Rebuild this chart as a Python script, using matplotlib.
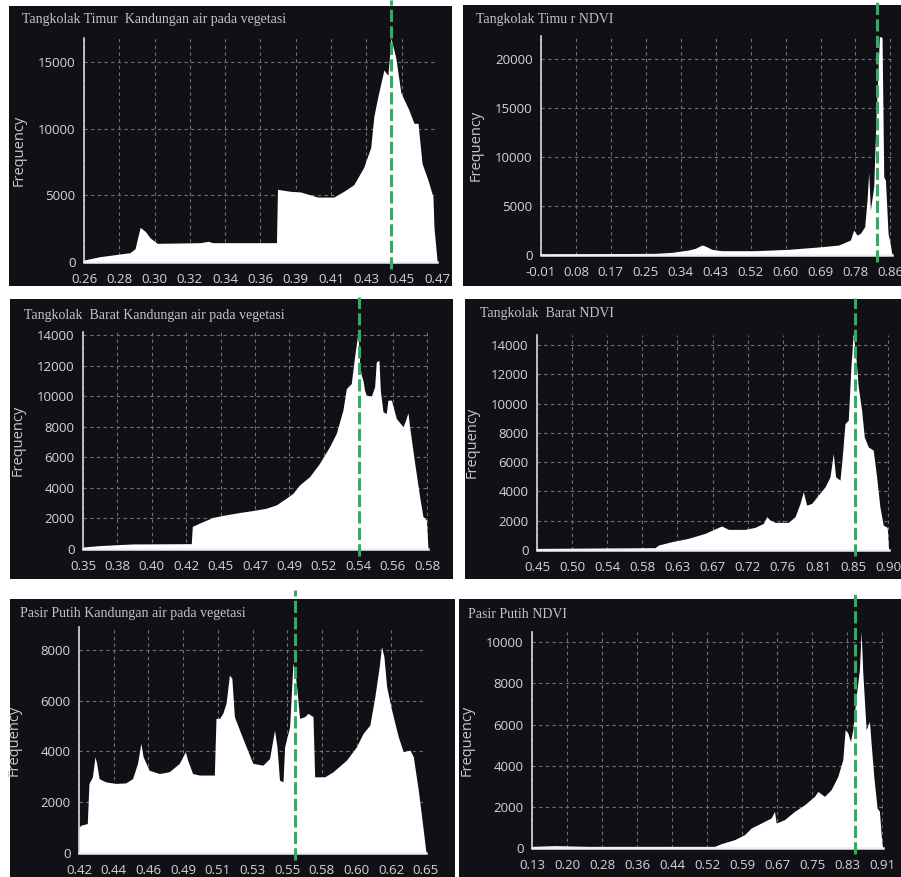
import numpy as np
import matplotlib
matplotlib.use('Agg')
import matplotlib.pyplot as plt

W, H = 901, 877

# ---- data (profile vertices: value, frequency) ----
p1_x = [0.2600, 0.2695, 0.2785, 0.2874, 0.2904, 0.2934, 0.2964, 0.2994, 0.3036, 0.3292, 0.3340,
        0.3364, 0.3745, 0.3751, 0.3829, 0.3889, 0.3990, 0.4086, 0.4145, 0.4205, 0.4264, 0.4306,
        0.4324, 0.4348, 0.4384, 0.4408, 0.4426, 0.4455, 0.4485, 0.4533, 0.4563, 0.4587, 0.4611,
        0.4646, 0.4676, 0.4682, 0.4700]
p1_freq = [150, 400, 550, 700, 1000, 2600, 2300, 1800, 1400, 1450, 1550,
           1450, 1450, 5450, 5300, 5250, 4870, 4870, 5300, 5800, 7100, 8600,
           10900, 12400, 14400, 14000, 16800, 15300, 12700, 11400, 10400, 10400, 7400,
           6150, 4900, 2600, 150]

p2_x = [-0.0100, 0.2742, 0.3157, 0.3573, 0.3739, 0.3905, 0.3988, 0.4154, 0.4404, 0.5235, 0.6066,
        0.6897, 0.7312, 0.7603, 0.7686, 0.7769, 0.7852, 0.7960, 0.8018, 0.8060, 0.8101, 0.8185,
        0.8243, 0.8326, 0.8392, 0.8434, 0.8476, 0.8542, 0.8600, 0.8641]
p2_freq = [100, 170, 270, 510, 680, 1020, 920, 580, 440, 440, 580,
           850, 1020, 1530, 2550, 2040, 2210, 2890, 5610, 8400, 4590, 6970,
           14110, 22340, 22270, 7990, 7650, 2210, 1020, 0]

p3_x = [0.3500, 0.3611, 0.3723, 0.3834, 0.4224, 0.4231, 0.4280, 0.4369, 0.4458, 0.4548, 0.4637,
        0.4726, 0.4793, 0.4860, 0.4904, 0.4949, 0.5016, 0.5082, 0.5149, 0.5194, 0.5238, 0.5261,
        0.5294, 0.5316, 0.5339, 0.5350, 0.5361, 0.5372, 0.5383, 0.5394, 0.5428, 0.5450, 0.5461,
        0.5479, 0.5488, 0.5506, 0.5528, 0.5539, 0.5562, 0.5595, 0.5640, 0.5657, 0.5673, 0.5684,
        0.5718, 0.5751, 0.5773, 0.5796, 0.5807]
p3_freq = [130, 220, 280, 330, 350, 1480, 1700, 2070, 2240, 2390, 2520,
           2670, 2890, 3330, 3650, 4200, 4740, 5610, 6700, 7570, 9090, 10500,
           10830, 12570, 14200, 12130, 11370, 11040, 10390, 10070, 10000, 10600, 12240,
           12350, 10390, 8980, 8870, 9740, 9740, 8540, 8000, 8430, 8910, 8000,
           5610, 3430, 2130, 1910, 0]

p4_x = [0.4500, 0.6014, 0.6057, 0.6228, 0.6441, 0.6654, 0.6825, 0.6867, 0.6953, 0.7166, 0.7294,
        0.7400, 0.7443, 0.7486, 0.7550, 0.7720, 0.7806, 0.7870, 0.7912, 0.7955, 0.8019, 0.8104,
        0.8190, 0.8254, 0.8296, 0.8326, 0.8382, 0.8411, 0.8446, 0.8488, 0.8522, 0.8552, 0.8586,
        0.8616, 0.8659, 0.8693, 0.8744, 0.8808, 0.8851, 0.8893, 0.8936, 0.8987, 0.9005]
p4_freq = [110, 160, 340, 570, 800, 1140, 1550, 1640, 1410, 1410, 1550,
           1820, 2275, 2050, 1890, 1890, 2275, 3185, 3980, 3070, 3185, 3750,
           4320, 5000, 6600, 5000, 4780, 6370, 8650, 8870, 12510, 14790, 13200,
           11150, 9555, 7735, 7050, 6825, 5000, 2960, 1700, 1550, 0]

p5_x = [0.4200, 0.4211, 0.4255, 0.4266, 0.4289, 0.4306, 0.4317, 0.4333, 0.4377, 0.4444, 0.4510,
        0.4555, 0.4588, 0.4610, 0.4625, 0.4665, 0.4732, 0.4798, 0.4865, 0.4905, 0.4920, 0.4953,
        0.4998, 0.5097, 0.5108, 0.5131, 0.5153, 0.5175, 0.5197, 0.5213, 0.5230, 0.5264, 0.5308,
        0.5352, 0.5419, 0.5463, 0.5496, 0.5512, 0.5529, 0.5552, 0.5563, 0.5596, 0.5618, 0.5629,
        0.5645, 0.5662, 0.5696, 0.5718, 0.5751, 0.5762, 0.5829, 0.5884, 0.5973, 0.6039, 0.6083,
        0.6128, 0.6161, 0.6190, 0.6205, 0.6221, 0.6239, 0.6272, 0.6316, 0.6349, 0.6394, 0.6416,
        0.6449, 0.6482, 0.6500]
p5_freq = [1000, 1090, 1160, 2740, 3000, 3790, 3530, 2930, 2800, 2740, 2760,
           2930, 3530, 4320, 3790, 3260, 3130, 3200, 3530, 3990, 3660, 3130,
           3070, 3070, 5300, 5300, 5500, 5900, 7010, 6880, 5370, 4840, 4180,
           3530, 3460, 3720, 4840, 4180, 2870, 2800, 4180, 4970, 7470, 7210,
           6420, 5300, 5370, 5500, 5370, 3000, 3000, 3200, 3660, 4180, 4710,
           5040, 6160, 7340, 8130, 7740, 6550, 5630, 4580, 3990, 4050, 3790,
           2470, 895, 0]

p6_x = [0.1300, 0.1805, 0.2547, 0.5367, 0.5515, 0.5812, 0.6035, 0.6183, 0.6406, 0.6629, 0.6703,
        0.6740, 0.6926, 0.7148, 0.7371, 0.7593, 0.7668, 0.7816, 0.7964, 0.8113, 0.8224, 0.8276,
        0.8336, 0.8395, 0.8447, 0.8521, 0.8595, 0.8632, 0.8670, 0.8744, 0.8818, 0.8855, 0.8914,
        0.8989, 0.9041, 0.9078, 0.9110]
p6_freq = [80, 115, 80, 80, 210, 405, 650, 970, 1215, 1460, 1780,
           1215, 1380, 1780, 2100, 2510, 2750, 2510, 2835, 3480, 4290, 5750,
           5590, 5180, 5750, 7370, 8670, 10530, 8500, 5750, 6150, 5100, 3480,
           1940, 1780, 650, 0]

# dashed green marker positions
modes = [0.4426, 0.8268, 0.5343, 0.8573, 0.5629, 0.8506]

titles = ['Tangkolak Timur  Kandungan air pada vegetasi',
          'Tangkolak Timu r NDVI',
          'Tangkolak  Barat Kandungan air pada vegetasi',
          'Tangkolak  Barat NDVI',
          'Pasir Putih Kandungan air pada vegetasi',
          'Pasir Putih NDVI']

xlabels = [
    ['0.26', '0.28', '0.30', '0.32', '0.34', '0.36', '0.39', '0.41', '0.43', '0.45', '0.47'],
    ['-0.01', '0.08', '0.17', '0.25', '0.34', '0.43', '0.52', '0.60', '0.69', '0.78', '0.86'],
    ['0.35', '0.38', '0.40', '0.42', '0.45', '0.47', '0.49', '0.52', '0.54', '0.56', '0.58'],
    ['0.45', '0.50', '0.54', '0.58', '0.63', '0.67', '0.72', '0.76', '0.81', '0.85', '0.90'],
    ['0.42', '0.44', '0.46', '0.49', '0.51', '0.53', '0.55', '0.58', '0.60', '0.62', '0.65'],
    ['0.13', '0.20', '0.28', '0.36', '0.44', '0.52', '0.59', '0.67', '0.75', '0.83', '0.91'],
]
yticks = [
    [0, 5000, 10000, 15000],
    [0, 5000, 10000, 15000, 20000],
    [0, 2000, 4000, 6000, 8000, 10000, 12000, 14000],
    [0, 2000, 4000, 6000, 8000, 10000, 12000, 14000],
    [0, 2000, 4000, 6000, 8000],
    [0, 2000, 4000, 6000, 8000, 10000],
]
ytops = [16800, 22400, 14200, 14700, 8900, 10500]
xends = [0.47, 0.864, 0.5807, 0.901, 0.65, 0.912]

series = [(p1_x, p1_freq), (p2_x, p2_freq), (p3_x, p3_freq),
          (p4_x, p4_freq), (p5_x, p5_freq), (p6_x, p6_freq)]

# layout in pixels: panel (l, t, r, b), axes (l, t, r, b), title (x, y), top of green line
panels = [(9, 6, 452, 286), (463, 5, 901, 286), (10, 299, 453, 579),
          (465, 299, 901, 579), (10, 599, 455, 877), (459, 599, 901, 877)]
axes_px = [(84, 38, 437, 262), (541, 36, 892, 255), (83, 332, 428, 549),
           (537, 335, 889, 550), (79, 627, 426, 853), (532, 632, 883, 848)]
title_px = [(22, 20), (476, 20), (24, 315), (480, 314), (20, 614), (468, 615)]
line_top = [0, 0, 297, 298, 590, 590]

BG = '#101017'
GREEN = '#2fae5f'


def frac(l, t, r, b):
    return [l / W, 1 - b / H, (r - l) / W, (b - t) / H]


fig = plt.figure(figsize=(W / 100, H / 100), dpi=100, facecolor='white')

for i in range(6):
    bg = fig.add_axes(frac(*panels[i]))
    bg.set_facecolor(BG)
    bg.set_xticks([])
    bg.set_yticks([])
    for s in bg.spines.values():
        s.set_visible(False)

    l, t, r, b = axes_px[i]
    ax = fig.add_axes(frac(l, t, r, b))
    ax.set_facecolor('none')
    x, f = series[i]
    ax.fill_between(x, f, 0, color='white', linewidth=0, zorder=3)

    labs = xlabels[i]
    ticks = np.linspace(float(labs[0]), float(labs[-1]), len(labs))
    ax.set_xticks(ticks)
    ax.set_xticklabels(labs)
    ax.set_yticks(yticks[i])
    ax.set_xlim(float(labs[0]), xends[i])
    ax.set_ylim(0, ytops[i])

    ax.grid(True, color='#707075', linestyle=(0, (3, 3)), linewidth=0.8, zorder=1)
    ax.set_axisbelow(True)
    for side in ['top', 'right']:
        ax.spines[side].set_visible(False)
    ax.spines['left'].set_color('#d8d8d8')
    ax.spines['left'].set_linewidth(1.2)
    ax.spines['bottom'].set_color('#f0f0f0')
    ax.spines['bottom'].set_linewidth(1.8)
    ax.spines['bottom'].set_zorder(4)
    ax.tick_params(length=0, colors='#d6d6d6', labelsize=9.5)
    ax.tick_params(axis='x', pad=8)
    ax.tick_params(axis='y', pad=6)
    for lab in ax.get_xticklabels() + ax.get_yticklabels():
        lab.set_fontfamily('Open Sans')

    ax.set_ylabel('Frequency', color='#c8c8c8', fontsize=10.5, fontfamily='Open Sans')
    ax.yaxis.set_label_coords(-57 / (r - l), 0.5)

    ax.axvline(modes[i], ymin=-0.03, ymax=(b - line_top[i]) / (b - t), clip_on=False,
               color=GREEN, linewidth=2.2, dashes=(4, 1.4), zorder=6)

    tx, ty = title_px[i]
    fig.text(tx / W, 1 - ty / H, titles[i], color='#c4c4c4', fontsize=10,
             fontfamily='Liberation Serif', va='center', ha='left')

fig.savefig('out.png', dpi=100, facecolor='white')
